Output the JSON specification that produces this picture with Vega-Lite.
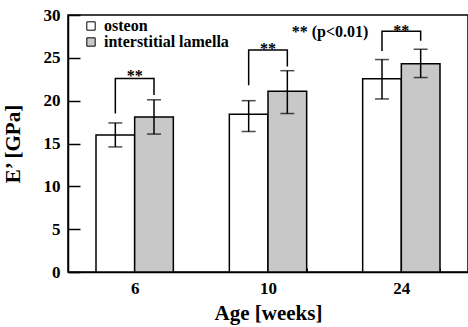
{
  "$schema": "https://vega.github.io/schema/vega-lite/v6.json",
  "autosize": {"type": "none"},
  "padding": {"left": 68, "top": 15, "right": 0, "bottom": 55},
  "width": 400,
  "height": 257,
  "background": "white",
  "config": {
    "view": {"stroke": "black", "strokeWidth": 1.5},
    "font": "Liberation Serif"
  },
  "datasets": {
    "bars": [
      {"age": "6", "series": "osteon", "E": 16.0, "lo": 14.6, "hi": 17.4},
      {"age": "6", "series": "interstitial lamella", "E": 18.1, "lo": 16.1, "hi": 20.1},
      {"age": "10", "series": "osteon", "E": 18.4, "lo": 16.4, "hi": 20.0},
      {"age": "10", "series": "interstitial lamella", "E": 21.1, "lo": 18.5, "hi": 23.5},
      {"age": "24", "series": "osteon", "E": 22.55, "lo": 20.2, "hi": 24.8},
      {"age": "24", "series": "interstitial lamella", "E": 24.3, "lo": 22.7, "hi": 26.0}
    ],
    "brackets": [
      {"age": "6", "series": "osteon", "v": 18.5, "ord": 1},
      {"age": "6", "series": "osteon", "v": 22.6, "ord": 2},
      {"age": "6", "series": "interstitial lamella", "v": 22.6, "ord": 3},
      {"age": "6", "series": "interstitial lamella", "v": 20.65, "ord": 4},
      {"age": "10", "series": "osteon", "v": 21.8, "ord": 1},
      {"age": "10", "series": "osteon", "v": 25.9, "ord": 2},
      {"age": "10", "series": "interstitial lamella", "v": 25.9, "ord": 3},
      {"age": "10", "series": "interstitial lamella", "v": 24.0, "ord": 4},
      {"age": "24", "series": "osteon", "v": 25.8, "ord": 1},
      {"age": "24", "series": "osteon", "v": 28.1, "ord": 2},
      {"age": "24", "series": "interstitial lamella", "v": 28.1, "ord": 3},
      {"age": "24", "series": "interstitial lamella", "v": 27.0, "ord": 4}
    ],
    "stars": [
      {"age": "6", "v": 22.3, "label": "**"},
      {"age": "10", "v": 25.5, "label": "**"},
      {"age": "24", "v": 27.6, "label": "**"}
    ],
    "note": [
      {"age": "24", "v": 27.4, "label": "** (p<0.01)"}
    ]
  },
  "encoding": {
    "x": {
      "field": "age", "type": "nominal",
      "sort": ["6", "10", "24"],
      "scale": {"domain": ["6", "10", "24"], "paddingInner": 0.42, "paddingOuter": 0.21},
      "axis": {
        "title": "Age [weeks]",
        "labelAngle": 0,
        "labelFont": "Liberation Serif", "labelFontWeight": "bold", "labelFontSize": 17, "labelColor": "black",
        "labelPadding": 12,
        "titleFont": "Liberation Serif", "titleFontWeight": "bold", "titleFontSize": 21, "titleColor": "black",
        "titlePadding": 6,
        "domainColor": "black", "domainWidth": 1.5,
        "tickBand": "extent", "tickSize": -4, "tickColor": "black", "tickWidth": 1
      }
    }
  },
  "layer": [
    {
      "data": {"name": "bars"},
      "mark": {"type": "bar", "stroke": "black", "strokeWidth": 1.5},
      "encoding": {
        "xOffset": {"field": "series", "type": "nominal", "scale": {"domain": ["osteon", "interstitial lamella"], "paddingInner": 0, "paddingOuter": 0}},
        "y": {
          "field": "E", "type": "quantitative",
          "scale": {"domain": [0, 30], "nice": false},
          "axis": {
            "title": "E’ [GPa]",
            "values": [0, 5, 10, 15, 20, 25, 30],
            "grid": false,
            "labelFont": "Liberation Serif", "labelFontWeight": "bold", "labelFontSize": 17, "labelColor": "black",
            "labelPadding": 20,
            "titleFont": "Liberation Serif", "titleFontWeight": "bold", "titleFontSize": 21, "titleColor": "black",
            "titlePadding": 20,
            "domainColor": "black", "domainWidth": 1.5,
            "tickSize": -12, "tickColor": "black", "tickWidth": 1.5
          }
        },
        "fill": {
          "field": "series", "type": "nominal",
          "scale": {"domain": ["osteon", "interstitial lamella"], "range": ["white", "#c8c8c8"]},
          "legend": {
            "title": null,
            "orient": "none", "legendX": 15, "legendY": 3,
            "symbolType": "square", "symbolSize": 70,
            "symbolStrokeColor": "black", "symbolStrokeWidth": 1,
            "labelFont": "Liberation Serif", "labelFontWeight": "bold", "labelFontSize": 16, "labelColor": "black",
            "labelOffset": 5, "rowPadding": -1
          }
        }
      }
    },
    {
      "data": {"name": "bars"},
      "mark": {"type": "rule", "stroke": "black", "strokeWidth": 1.5},
      "encoding": {
        "xOffset": {"field": "series", "type": "nominal"},
        "y": {"field": "lo", "type": "quantitative"},
        "y2": {"field": "hi"}
      }
    },
    {
      "data": {"name": "bars"},
      "mark": {"type": "tick", "color": "black", "thickness": 1.5, "size": 14, "orient": "horizontal"},
      "encoding": {
        "xOffset": {"field": "series", "type": "nominal"},
        "y": {"field": "lo", "type": "quantitative"}
      }
    },
    {
      "data": {"name": "bars"},
      "mark": {"type": "tick", "color": "black", "thickness": 1.5, "size": 14, "orient": "horizontal"},
      "encoding": {
        "xOffset": {"field": "series", "type": "nominal"},
        "y": {"field": "hi", "type": "quantitative"}
      }
    },
    {
      "data": {"name": "brackets"},
      "mark": {"type": "line", "color": "black", "strokeWidth": 1.5, "interpolate": "linear"},
      "encoding": {
        "xOffset": {"field": "series", "type": "nominal"},
        "y": {"field": "v", "type": "quantitative"},
        "detail": {"field": "age"},
        "order": {"field": "ord", "type": "quantitative"}
      }
    },
    {
      "data": {"name": "stars"},
      "mark": {"type": "text", "font": "Liberation Serif", "fontWeight": "bold", "fontSize": 16, "color": "black", "baseline": "alphabetic", "align": "center"},
      "encoding": {
        "y": {"field": "v", "type": "quantitative"},
        "text": {"field": "label"}
      }
    },
    {
      "data": {"name": "note"},
      "mark": {"type": "text", "font": "Liberation Serif", "fontWeight": "bold", "fontSize": 16, "color": "black", "baseline": "alphabetic", "align": "right", "dx": -33},
      "encoding": {
        "y": {"field": "v", "type": "quantitative"},
        "text": {"field": "label"}
      }
    }
  ]
}
